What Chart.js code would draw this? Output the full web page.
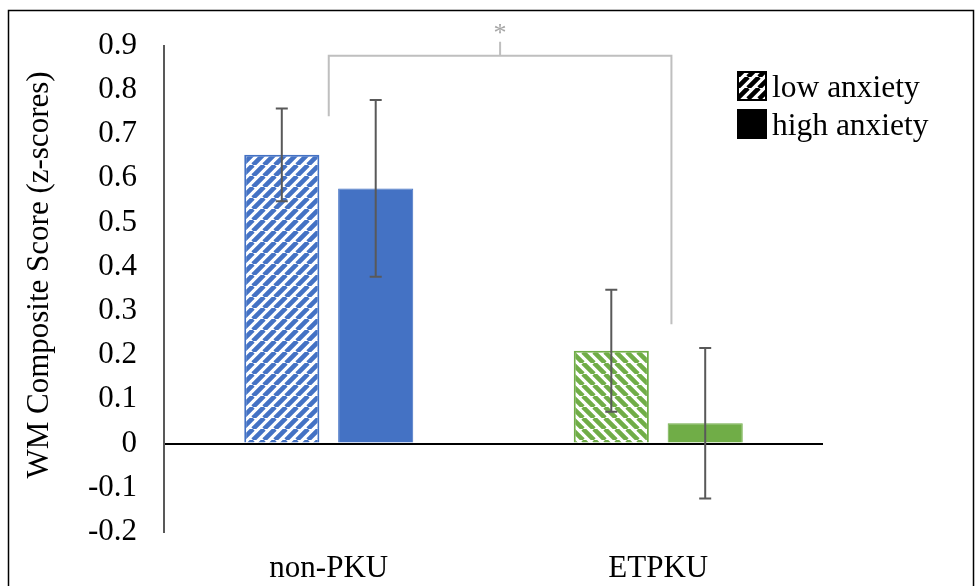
<!DOCTYPE html>
<html>
<head>
<meta charset="utf-8">
<script src="https://cdn.jsdelivr.net/npm/chart.js@4/dist/chart.umd.min.js"></script>
<style>
    html, body { margin: 0; padding: 0; background: #fff; }
    #wrap { position: relative; width: 975px; height: 586px; }
</style>
</head>
<body>
<div id="wrap"><canvas id="wmChart" width="975" height="586"></canvas></div>
<script>
// Data
const categories = ['non-PKU', 'ETPKU'];
const lowAnxiety = [0.653, 0.21];
const highAnxiety = [0.577, 0.046];
const lowAnxietyErr = [0.105, 0.138];
const highAnxietyErr = [0.2, 0.17];
const yTicks = [0.9, 0.8, 0.7, 0.6, 0.5, 0.4, 0.3, 0.2, 0.1, 0, -0.1, -0.2];
const yTitle = 'WM Composite Score (z-scores)';

// significance bracket, in data units (x = category index)
const bracketLeft = [0, 0.74];    // [x, y of leg bottom]
const bracketRight = [1.04, 0.27];
const bracketTop = 0.877;
const bracketLabel = '*';

const BLUE = '#4472C4';
const GREEN = '#70AD47';
const FONT = '"Liberation Serif", "Times New Roman", serif';

function makeHatch(color, dir) {
    const size = 11;
    const c = document.createElement('canvas');
    c.width = size; c.height = size;
    const g = c.getContext('2d');
    g.fillStyle = '#fff';
    g.fillRect(0, 0, size, size);
    g.strokeStyle = color;
    g.lineWidth = 4.6;
    g.beginPath();
    for (let k = -1; k <= 1; k++) {
        if (dir === 'up') {
            g.moveTo(k * size, size); g.lineTo(k * size + size, 0);
        } else {
            g.moveTo(k * size, 0); g.lineTo(k * size + size, size);
        }
    }
    g.stroke();
    return g.createPattern(c, 'repeat');
}

const ctx = document.getElementById('wmChart').getContext('2d');
const bluePattern = makeHatch(BLUE, 'up');
const greenPattern = makeHatch(GREEN, 'down');
const blackPattern = makeHatch('#000', 'up');

const errorBars = {
    id: 'errorBars',
    afterDatasetsDraw(chart) {
        const y = chart.scales.y;
        const errs = [lowAnxietyErr, highAnxietyErr];
        const c = chart.ctx;
        c.save();
        c.strokeStyle = '#595959';
        c.lineWidth = 2;
        chart.data.datasets.forEach((ds, di) => {
            chart.getDatasetMeta(di).data.forEach((bar, i) => {
                const v = ds.data[i];
                const top = y.getPixelForValue(v + errs[di][i]);
                const bot = y.getPixelForValue(v - errs[di][i]);
                c.beginPath();
                c.moveTo(bar.x, top); c.lineTo(bar.x, bot);
                c.moveTo(bar.x - 6, top); c.lineTo(bar.x + 6, top);
                c.moveTo(bar.x - 6, bot); c.lineTo(bar.x + 6, bot);
                c.stroke();
            });
        });
        c.restore();
    }
};

const extras = {
    id: 'extras',
    beforeDraw(chart) {
        const c = chart.ctx;
        c.save();
        c.fillStyle = '#fff';
        c.fillRect(0, 0, chart.width, chart.height);
        c.strokeStyle = '#000';
        c.lineWidth = 1.5;
        c.strokeRect(8.5, 10.5, 965, 600);
        c.restore();
    },
    afterDraw(chart) {
        const c = chart.ctx;
        const x = chart.scales.x, y = chart.scales.y;
        const xl = x.getPixelForValue(bracketLeft[0]);
        const xr = x.getPixelForValue(bracketRight[0]);
        const yt = y.getPixelForValue(bracketTop);
        c.save();
        c.strokeStyle = '#BFBFBF';
        c.lineWidth = 2;
        c.beginPath();
        c.moveTo(xl, y.getPixelForValue(bracketLeft[1]));
        c.lineTo(xl, yt);
        c.lineTo(xr, yt);
        c.lineTo(xr, y.getPixelForValue(bracketRight[1]));
        const xm = (xl + xr) / 2;
        c.moveTo(xm, yt);
        c.lineTo(xm, yt - 14);
        c.stroke();
        c.fillStyle = '#A6A6A6';
        c.font = '26px ' + FONT;
        c.textAlign = 'center';
        c.textBaseline = 'middle';
        c.fillText(bracketLabel, xm, yt - 22);

        // y axis title, sits a bit above the plot centre like the original
        c.save();
        c.translate(40, 275);
        c.rotate(-Math.PI / 2);
        c.fillStyle = '#000';
        c.font = '31px ' + FONT;
        c.fillText(yTitle, 0, 0);
        c.restore();

        // legend
        const items = [['low anxiety', blackPattern], ['high anxiety', '#000']];
        c.font = '31.5px ' + FONT;
        c.textAlign = 'left';
        items.forEach((it, k) => {
            const top = 71 + k * 38;
            c.fillStyle = it[1];
            c.fillRect(737, top, 30, 30);
            c.strokeStyle = '#000';
            c.lineWidth = 2;
            c.strokeRect(738, top + 1, 28, 28);
            c.fillStyle = '#000';
            c.fillText(it[0], 772, top + 18);
        });
        c.restore();
    }
};

new Chart(ctx, {
    type: 'bar',
    data: {
        labels: categories,
        datasets: [
            {
                label: 'low anxiety',
                data: lowAnxiety,
                backgroundColor: [bluePattern, greenPattern],
                borderColor: [BLUE, GREEN],
                borderWidth: 2
            },
            {
                label: 'high anxiety',
                data: highAnxiety,
                backgroundColor: [BLUE, GREEN],
                borderColor: [BLUE, GREEN],
                borderWidth: 1
            }
        ]
    },
    options: {
        responsive: false,
        animation: false,
        devicePixelRatio: 1,
        categoryPercentage: 0.57,
        barPercentage: 0.8,
        layout: { padding: { top: 43, right: 152, left: 0, bottom: 0 } },
        plugins: {
            legend: { display: false },
            tooltip: { enabled: false }
        },
        scales: {
            x: {
                grid: { display: false },
                border: { display: false },
                ticks: { color: '#000', font: { family: FONT, size: 31 }, padding: 10 },
                afterFit(scale) { scale.height = 54; }
            },
            y: {
                min: -0.2,
                max: 0.9,
                afterBuildTicks(scale) {
                    scale.ticks = yTicks.map(v => ({ value: v }));
                },
                ticks: {
                    color: '#000',
                    font: { family: FONT, size: 31 },
                    padding: 27,
                    callback: v => String(Math.round(v * 10) / 10)
                },
                grid: {
                    drawTicks: false,
                    lineWidth: 2,
                    color: c => (c.tick && c.tick.value === 0 ? '#000' : 'rgba(0,0,0,0)')
                },
                border: { display: true, color: '#595959', width: 2 },
                title: { display: false },
                afterFit(scale) { scale.width = 164; }
            }
        }
    },
    plugins: [extras, errorBars]
});
</script>
</body>
</html>
